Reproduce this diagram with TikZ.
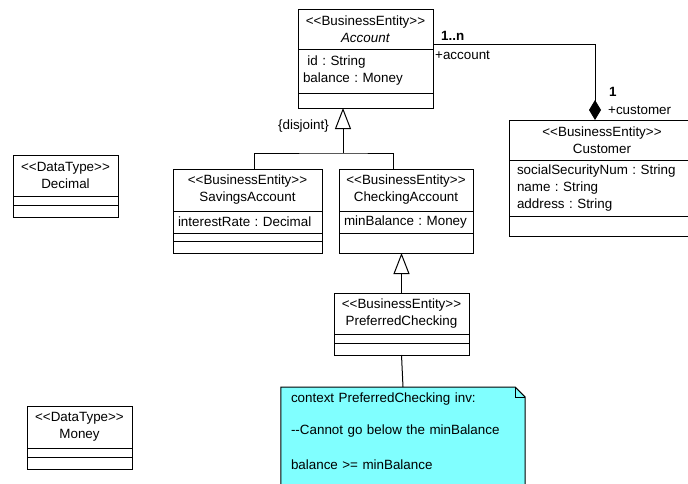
\documentclass[tikz,border=0pt]{standalone}
\usepackage{fontspec}
\setmainfont{Liberation Sans}
\usepackage{tikz}
\usetikzlibrary{arrows.meta,positioning,calc,backgrounds}
\definecolor{notecyan}{RGB}{128,255,255}
\newcommand{\stereo}[1]{<{}<#1>{}>}
\tikzset{
  head/.style={draw, line width=1pt, fill=white, align=center, text width=#1, inner sep=0pt, outer sep=0pt},
  attrs/.style={draw, line width=1pt, fill=white, align=left, text width=#1, inner xsep=5pt, inner ysep=0pt, outer sep=0pt},
  compart/.style={draw, line width=1pt, fill=white, minimum width=#1, inner sep=0pt, outer sep=0pt},
  gen/.style={-{Triangle[open, length=21pt, width=16pt, line width=1pt]}, line width=1pt},
  assoc/.style={-{Diamond[length=20pt, width=12pt]}, line width=1pt},
  mult/.style={font=\bfseries, inner sep=0pt, anchor=west},
  role/.style={inner sep=0pt, anchor=west},
  notebox/.style={align=left, text width=#1, inner xsep=10pt, inner ysep=6pt, anchor=north}
}
\frenchspacing

\begin{document}
\begin{tikzpicture}[x=1pt, y=-1pt]
  \fontsize{13.4pt}{17pt}\selectfont
  \useasboundingbox (0,0) rectangle (688,483);
  \begin{scope}[on background layer]
    \fill[white] (0,0) rectangle (688,483);
  \end{scope}
  \clip (0,0) rectangle (688,483);

  % Account
  \node[head=135pt, minimum height=40pt, anchor=north] (acc) at (365.5,9) {\stereo{BusinessEntity}\\\textit{Account}};
  \node[attrs=125pt, minimum height=44pt, below=0pt of acc] (accattr) {\ id : String\\balance : Money};
  \node[compart=135pt, minimum height=15pt, below=0pt of accattr] (accops) {};

  % Customer
  \node[head=186pt, minimum height=40pt, anchor=north] (cus) at (602,120) {\stereo{BusinessEntity}\\Customer};
  \node[attrs=170pt, inner xsep=8pt, minimum height=56pt, below=0pt of cus] (cusattr) {socialSecurityNum : String\\name : String\\address : String};
  \node[compart=186pt, minimum height=20pt, below=0pt of cusattr] (cusops) {};

  % SavingsAccount
  \node[head=149pt, minimum height=42pt, anchor=north] (sav) at (247.5,169) {\stereo{BusinessEntity}\\SavingsAccount};
  \node[attrs=139pt, minimum height=22pt, below=0pt of sav] (savattr) {interestRate : Decimal};
  \node[compart=149pt, minimum height=8pt, below=0pt of savattr] (savops) {};
  \node[compart=149pt, minimum height=12pt, below=0pt of savops] (savext) {};

  % CheckingAccount
  \node[head=134pt, minimum height=42pt, anchor=north] (chk) at (406,169) {\stereo{BusinessEntity}\\CheckingAccount};
  \node[attrs=124pt, minimum height=22pt, below=0pt of chk] (chkattr) {minBalance : Money};
  \node[compart=134pt, minimum height=20pt, below=0pt of chkattr] (chkops) {};

  % PreferredChecking
  \node[head=135pt, minimum height=41pt, anchor=north] (pref) at (401.5,293) {\stereo{BusinessEntity}\\PreferredChecking};
  \node[compart=135pt, minimum height=9pt, below=0pt of pref] (prefattr) {};
  \node[compart=135pt, minimum height=12pt, below=0pt of prefattr] (prefops) {};

  % data types
  \node[head=105pt, minimum height=41pt, anchor=north] (dec) at (65.5,155) {\stereo{DataType}\\Decimal};
  \node[compart=105pt, minimum height=9pt, below=0pt of dec] (decattr) {};
  \node[compart=105pt, minimum height=12pt, below=0pt of decattr] (decops) {};

  \node[head=105pt, minimum height=42pt, anchor=north] (mon) at (79.5,406) {\stereo{DataType}\\Money};
  \node[compart=105pt, minimum height=9pt, below=0pt of mon] (monattr) {};
  \node[compart=105pt, minimum height=12pt, below=0pt of monattr] (monops) {};

  % generalizations
  \coordinate (split) at (343,153);
  \draw[gen] (split) -- (split |- accops.south);
  \draw[line width=1pt] ($(sav.north)+(6.5,0)$) |- (split) -| ($(chk.north)+(-13,0)$);
  \node[inner sep=0pt, anchor=east] (disj) at ($(split)+(-14,-27)$) {\{disjoint\}};
  \draw[gen] (pref.north) -- (pref.north |- chkops.south);

  % composition Account - Customer
  \coordinate (accend) at ($(acc.north east)+(0,35)$);
  \draw[assoc] (accend) -| ($(cus.north)+(-7,0)$);
  \node[mult] at ($(accend)+(8,-8)$) {1..n};
  \node[role] at ($(accend)+(2,11)$) {+account};
  \node[mult] at ($(cus.north)+(7,-28)$) {1};
  \node[role] at ($(cus.north)+(6,-10)$) {+customer};

  % OCL note
  \node[notebox=224pt] (note) at (403,387) {context PreferredChecking inv:\\[15pt]-{}-Cannot go below the minBalance\\[18pt]balance >= minBalance};
  \begin{scope}[on background layer]
    \draw[line width=1pt, fill=notecyan] (note.north west) -- ($(note.north east)+(-10,0)$) -- ($(note.north east)+(0,10)$) -- ($(note.south east)+(0,30)$) -- ($(note.south west)+(0,30)$) -- cycle;
    \draw[line width=1pt] ($(note.north east)+(-10,0)$) |- ($(note.north east)+(0,10)$);
  \end{scope}
  \draw[line width=1pt] (prefops.south) -- (note.north);
\end{tikzpicture}
\end{document}
